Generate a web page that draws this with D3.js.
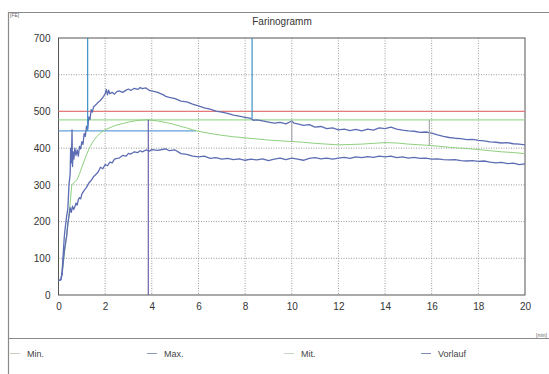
<!DOCTYPE html>
<html>
<head>
<meta charset="utf-8">
<script src="https://cdn.jsdelivr.net/npm/d3@7"></script>
<style>
  body { margin: 0; background: #fff; }
  svg { display: block; font-family: "Liberation Sans", Arial, sans-serif; }
</style>
</head>
<body>
<svg id="chart" width="549" height="374"></svg>
<script>
// time axis (min) and consistency (FE)
const maxT = [0, 0.1, 0.15, 0.2, 0.25, 0.3, 0.35, 0.4, 0.45, 0.5, 0.52, 0.55, 0.58, 0.6, 0.63, 0.66, 0.7, 0.75, 0.8, 0.85, 0.9, 0.95, 1.0, 1.05, 1.1, 1.15, 1.2, 1.25, 1.3, 1.35, 1.4, 1.45, 1.5, 1.6, 1.7, 1.8, 1.9, 2.0, 2.05, 2.1, 2.15, 2.2, 2.3, 2.4, 2.5, 2.6, 2.75, 2.9, 3.0, 3.1, 3.25, 3.4, 3.5, 3.6, 3.75, 3.9, 4.0, 4.25, 4.5, 4.6, 4.75, 5.0, 5.25, 5.5, 5.75, 6.0, 6.25, 6.5, 6.75, 7.0, 7.25, 7.5, 7.75, 8.0, 8.25, 8.35, 8.5, 8.75, 9.0, 9.25, 9.5, 9.75, 10.0, 10.1, 10.25, 10.5, 10.75, 11.0, 11.25, 11.5, 11.75, 12.0, 12.25, 12.5, 12.75, 13.0, 13.25, 13.5, 13.75, 14.0, 14.25, 14.5, 14.75, 15.0, 15.25, 15.5, 15.75, 16.0, 16.25, 16.5, 16.75, 17.0, 17.25, 17.5, 17.75, 18.0, 18.25, 18.5, 18.75, 19.0, 19.25, 19.5, 19.75, 20.0];
const maxV = [40, 41, 60, 110, 160, 190, 215, 235, 300, 330, 400, 360, 450, 350, 390, 370, 400, 380, 395, 378, 405, 398, 418, 410, 440, 432, 460, 452, 485, 478, 505, 498, 512, 518, 525, 530, 538, 548, 560, 545, 558, 548, 552, 547, 554, 556, 552, 558, 561, 557, 563, 560, 565, 562, 564, 557, 556, 552, 545, 541, 538, 535, 528, 526, 520, 515, 510, 506, 501, 498, 495, 490, 487, 484, 481, 476, 477, 474, 471, 468, 470, 466, 474, 468, 466, 462, 464, 457, 459, 453, 455, 450, 452, 448, 451, 447, 452, 449, 455, 453, 457, 452, 449, 447, 446, 443, 444, 441, 436, 432, 429, 427, 426, 423, 424, 421, 420, 417, 416, 414, 415, 412, 411, 409];

const minT = [0, 0.1, 0.15, 0.2, 0.25, 0.3, 0.35, 0.4, 0.45, 0.5, 0.55, 0.6, 0.65, 0.7, 0.75, 0.8, 0.85, 0.9, 0.95, 1.0, 1.1, 1.2, 1.3, 1.4, 1.5, 1.6, 1.7, 1.8, 1.9, 2.0, 2.1, 2.2, 2.3, 2.4, 2.5, 2.6, 2.75, 2.9, 3.0, 3.1, 3.25, 3.4, 3.5, 3.6, 3.75, 3.9, 4.0, 4.25, 4.5, 4.6, 4.75, 5.0, 5.25, 5.5, 5.75, 6.0, 6.25, 6.5, 6.75, 7.0, 7.25, 7.5, 7.75, 8.0, 8.25, 8.5, 8.75, 9.0, 9.25, 9.5, 9.75, 10.0, 10.25, 10.5, 10.75, 11.0, 11.25, 11.5, 11.75, 12.0, 12.25, 12.5, 12.75, 13.0, 13.25, 13.5, 13.75, 14.0, 14.25, 14.5, 14.75, 15.0, 15.25, 15.5, 15.75, 16.0, 16.25, 16.5, 16.75, 17.0, 17.25, 17.5, 17.75, 18.0, 18.25, 18.5, 18.75, 19.0, 19.25, 19.5, 19.75, 20.0];
const minV = [40, 41, 55, 90, 120, 140, 160, 195, 215, 238, 225, 242, 233, 240, 250, 245, 260, 265, 262, 275, 285, 293, 305, 312, 322, 328, 335, 348, 344, 355, 352, 362, 360, 370, 372, 373, 380, 378, 386, 384, 390, 388, 393, 390, 395, 392, 396, 394, 397, 398, 393, 395, 385, 383, 378, 376, 378, 372, 374, 370, 372, 369, 371, 367, 370, 368, 371, 366, 370, 373, 369, 373, 370, 367, 372, 374, 371, 373, 370, 373, 375, 372, 376, 374, 377, 375, 378, 376, 378, 374, 376, 373, 375, 372, 373, 370, 371, 369, 368, 369, 366, 365, 366, 364, 365, 362, 360, 361, 358, 359, 355, 357];

const midT = [0.15, 0.2, 0.3, 0.4, 0.5, 0.57, 0.7, 0.8, 0.9, 1.0, 1.1, 1.2, 1.36, 1.5, 1.65, 1.8, 2.0, 2.25, 2.5, 2.75, 3.0, 3.25, 3.5, 3.75, 4.0, 4.25, 4.5, 4.75, 5.0, 5.25, 5.5, 5.75, 6.0, 6.5, 7.0, 7.5, 8.0, 8.5, 9.0, 9.5, 10.0, 10.5, 11.0, 11.5, 12.0, 12.5, 13.0, 13.5, 14.0, 14.5, 15.0, 15.5, 16.0, 16.5, 17.0, 17.5, 18.0, 18.5, 19.0, 19.5, 20.0];
const midV = [55, 80, 140, 190, 250, 300, 308, 315, 330, 348, 365, 382, 405, 420, 432, 442, 450, 457, 463, 467, 471, 474, 476, 477, 476, 474, 471, 468, 464, 459, 455, 450, 446, 440, 435, 431, 428, 425, 422, 420, 418, 416, 413, 411, 409, 410, 411, 413, 415, 414, 411, 409, 407, 404, 401, 399, 396, 393, 390, 388, 385];

// evaluation markers: horizontal levels and vertical time marks
const levelValues = [500, 477, 447];
const levelEnds = [20, 20, 5.9];
const levelColors = ["#e47a7a", "#9cdc94", "#62a0d8"];

const markTimes = [1.25, 8.3, 3.85, 10.0, 15.9];
const markFrom = [447, 481, 0, 418, 407];
const markTo = [700, 700, 477, 477, 477];
const markColors = ["#3b92c4", "#3b92c4", "#6b63a8", "#a8a8b0", "#a8a8b0"];

const xTicks = [0, 2, 4, 6, 8, 10, 12, 14, 16, 18, 20];
const yTicks = [0, 100, 200, 300, 400, 500, 600, 700];
const legendLabels = ["Min.", "Max.", "Mit.", "Vorlauf"];
const legendColors = ["#c4ccc0", "#8c98b8", "#c8d4c4", "#7d8bb0"];

const svg = d3.select("#chart");
const plot = { left: 58.5, right: 525, top: 38, bottom: 295 };

const x = d3.scaleLinear().domain([0, 20]).range([plot.left, plot.right]);
const y = d3.scaleLinear().domain([0, 700]).range([plot.bottom, plot.top]);

// outer frame of the printout
svg.append("path")
    .attr("d", "M8.5,374 V12.5 H549")
    .attr("fill", "none")
    .attr("stroke", "#8a8a8a")
    .attr("stroke-width", 1.2);
svg.append("line")
    .attr("x1", 8).attr("x2", 549)
    .attr("y1", 338.5).attr("y2", 338.5)
    .attr("stroke", "#8a8a8a")
    .attr("stroke-width", 1.2);

svg.append("text")
    .attr("x", 282).attr("y", 25)
    .attr("text-anchor", "middle")
    .attr("font-size", 10)
    .attr("fill", "#333")
    .text("Farinogramm");

svg.append("text")
    .attr("x", 10).attr("y", 17)
    .attr("font-size", 5)
    .attr("fill", "#666")
    .text("[FE]");
svg.append("text")
    .attr("x", 536).attr("y", 337)
    .attr("font-size", 5)
    .attr("fill", "#666")
    .text("[min]");

// dotted grid
const grid = svg.append("g").attr("stroke", "#9a9a9a").attr("stroke-dasharray", "1,1.5");
grid.selectAll("line.gx")
    .data(xTicks.slice(1, -1))
    .join("line")
    .attr("class", "gx")
    .attr("x1", d => x(d)).attr("x2", d => x(d))
    .attr("y1", plot.top).attr("y2", plot.bottom);
grid.selectAll("line.gy")
    .data(yTicks.slice(1, -1))
    .join("line")
    .attr("class", "gy")
    .attr("x1", plot.left).attr("x2", plot.right)
    .attr("y1", d => y(d)).attr("y2", d => y(d));

// axes
const xAxis = svg.append("g")
    .attr("transform", `translate(0,${plot.bottom})`)
    .call(d3.axisBottom(x).tickValues(xTicks).tickSize(0).tickPadding(8));
const yAxis = svg.append("g")
    .attr("transform", `translate(${plot.left},0)`)
    .call(d3.axisLeft(y).tickValues(yTicks).tickSize(0).tickPadding(8));
[xAxis, yAxis].forEach(a => {
    a.select(".domain").remove();
    a.selectAll("text")
        .attr("font-size", 10)
        .attr("font-family", "Liberation Sans, Arial, sans-serif")
        .attr("fill", "#333");
});

svg.append("rect")
    .attr("x", plot.left).attr("y", plot.top)
    .attr("width", plot.right - plot.left)
    .attr("height", plot.bottom - plot.top)
    .attr("fill", "none")
    .attr("stroke", "#555")
    .attr("stroke-width", 1);

// reference levels
svg.append("g").selectAll("line")
    .data(levelValues)
    .join("line")
    .attr("x1", x(0))
    .attr("x2", (d, i) => x(levelEnds[i]))
    .attr("y1", d => y(d)).attr("y2", d => y(d))
    .attr("stroke", (d, i) => levelColors[i])
    .attr("stroke-width", 1.2);

// curves
const line = d3.line()
    .x(d => x(d[0]))
    .y(d => y(d[1]));

const series = [
    { t: midT, v: midV, color: "#8fd07f", width: 1 },
    { t: minT, v: minV, color: "#5d6db3", width: 1.3 },
    { t: maxT, v: maxV, color: "#5d6db3", width: 1.3 }
];
svg.append("g").selectAll("path")
    .data(series)
    .join("path")
    .attr("d", s => line(s.t.map((t, i) => [t, s.v[i]])))
    .attr("fill", "none")
    .attr("stroke", s => s.color)
    .attr("stroke-width", s => s.width)
    .attr("stroke-linejoin", "round");

// time marks
svg.append("g").selectAll("line")
    .data(markTimes)
    .join("line")
    .attr("x1", d => x(d)).attr("x2", d => x(d))
    .attr("y1", (d, i) => y(markFrom[i]))
    .attr("y2", (d, i) => y(markTo[i]))
    .attr("stroke", (d, i) => markColors[i])
    .attr("stroke-width", 1.2);

// legend below the separator
const legend = svg.append("g").selectAll("g")
    .data(legendLabels)
    .join("g")
    .attr("transform", (d, i) => `translate(${10 + i * 137},357)`);
legend.append("line")
    .attr("x1", 0).attr("x2", 10)
    .attr("y1", -3.5).attr("y2", -3.5)
    .attr("stroke", (d, i) => legendColors[i])
    .attr("stroke-width", 1);
legend.append("text")
    .attr("x", 17)
    .attr("font-size", 9)
    .attr("fill", "#444")
    .text(d => d);
</script>
</body>
</html>
